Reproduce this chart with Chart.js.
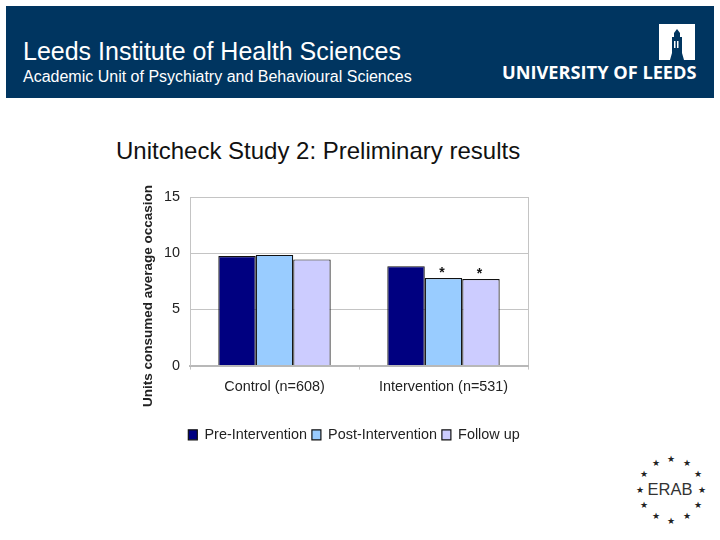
<!DOCTYPE html>
<html>
<head>
<meta charset="utf-8">
<title>Unitcheck Study 2</title>
<script src="https://cdn.jsdelivr.net/npm/chart.js@4"></script>
<style>
  html, body { margin: 0; padding: 0; background: #fff; }
  body { position: relative; width: 720px; height: 540px; overflow: hidden; font-family: "Liberation Sans", Arial, sans-serif; }
  #header { position: absolute; left: 6px; top: 6px; width: 708px; height: 92px; background: #003560; color: #fff; }
  #inst { position: absolute; left: 17px; top: 31px; font-size: 25px; white-space: nowrap; }
  #unit { position: absolute; left: 17px; top: 62px; font-size: 16px; white-space: nowrap; }
  #leeds { position: absolute; left: 496px; top: 54px; font-family: "Open Sans", sans-serif; font-weight: 700; font-size: 18.2px; white-space: nowrap; }
  #logo { position: absolute; left: 653px; top: 18px; }
  #heading { position: absolute; left: 116px; top: 137px; font-size: 24px; color: #111; white-space: nowrap; }
  #wrap { position: absolute; left: 130px; top: 170px; }
  #erab { position: absolute; left: 620px; top: 445px; }
</style>
</head>
<body>
<div id="header">
  <div id="inst">Leeds Institute of Health Sciences</div>
  <div id="unit">Academic Unit of Psychiatry and Behavioural Sciences</div>
  <div id="leeds">UNIVERSITY OF LEEDS</div>
  <svg id="logo" width="36" height="36" viewBox="0 0 36 36">
    <rect width="36" height="36" fill="#fff"/>
    <path d="M18 5 L21 9 L21 13 L23 13 L23 29 L25 36 L11 36 L13 29 L13 13 L15 13 L15 9 Z" fill="#003560"/>
    <rect x="15" y="17" width="1.5" height="7" fill="#fff"/>
    <rect x="18" y="17" width="1.5" height="7" fill="#fff"/>
  </svg>
</div>
<div id="heading">Unitcheck Study 2: Preliminary results</div>
<div id="wrap"><canvas id="myChart" width="448" height="288"></canvas></div>
<svg id="erab" width="100" height="90" viewBox="0 0 100 90">
  <g id="stars" fill="#222" font-size="9" text-anchor="middle"></g>
  <text x="50" y="50" text-anchor="middle" font-size="16.5" fill="#333" font-family="Liberation Sans">ERAB</text>
</svg>

<script>
const categories = ['Control (n=608)', 'Intervention (n=531)'];
const preIntervention = [9.75, 8.85];
const postIntervention = [9.85, 7.8];
const followUp = [9.45, 7.7];
const yTicks = [0, 5, 10, 15];
const yTitle = 'Units consumed average occasion';
// asterisks sit on the two later intervention bars
const starDatasets = [1, 2];
const starCategory = 1;

const gridGrey = '#c4c4c4';
const textColor = '#222';
const font = { family: '"Liberation Sans", Arial, sans-serif', size: 14.4 };

const stars = document.getElementById('stars');
for (let i = 0; i < 12; i++) {
  const a = i * Math.PI / 6;
  const t = document.createElementNS('http://www.w3.org/2000/svg', 'text');
  t.setAttribute('x', 51 + 31 * Math.sin(a));
  t.setAttribute('y', 47.5 - 31 * Math.cos(a));
  t.textContent = '★';
  stars.appendChild(t);
}

const extras = {
  id: 'extras',
  afterLayout(c) {
    // legend is centred under the canvas, not under the padded box
    c.legend.left += 25;
    c.legend.right += 25;
  },
  afterDraw(c) {
    const ctx = c.ctx;
    ctx.save();
    ctx.fillStyle = '#111';
    ctx.textAlign = 'center';
    ctx.font = 'bold 14px "Liberation Sans"';
    starDatasets.forEach(function(d) {
      const bar = c.getDatasetMeta(d).data[starCategory];
      ctx.fillText('*', bar.x - 1.5, bar.y - 5);
    });
    ctx.fillStyle = textColor;
    ctx.font = 'bold 13.5px "Liberation Sans"';
    ctx.translate(18, 126);
    ctx.rotate(-Math.PI / 2);
    ctx.textBaseline = 'middle';
    ctx.fillText(yTitle, 0, 0);
    ctx.restore();
  }
};

new Chart(document.getElementById('myChart').getContext('2d'), {
  type: 'bar',
  plugins: [extras],
  data: {
    labels: categories,
    datasets: [
      { label: 'Pre-Intervention', data: preIntervention, backgroundColor: '#000080' },
      { label: 'Post-Intervention', data: postIntervention, backgroundColor: '#99ccff' },
      { label: 'Follow up', data: followUp, backgroundColor: '#ccccff' }
    ].map(function(d) {
      return Object.assign(d, { borderColor: '#111', borderWidth: 1.2, categoryPercentage: 0.665, barPercentage: 1 });
    })
  },
  options: {
    responsive: false,
    animation: false,
    layout: { padding: { top: 27, right: 50, left: 0, bottom: 6 } },
    plugins: {
      tooltip: { enabled: false },
      legend: {
        position: 'bottom',
        labels: { boxWidth: 9, boxHeight: 10, padding: 5, color: textColor, font: font, useBorderRadius: false }
      }
    },
    scales: {
      x: {
        afterFit(s) { s.height = 57; },
        grid: {
          color: function(c) { return c.index === 1 ? 'transparent' : gridGrey; },
          tickColor: gridGrey,
          tickLength: 4
        },
        border: { color: '#b8b8b8', width: 2 },
        ticks: { color: textColor, font: font, padding: 9, maxRotation: 0 }
      },
      y: {
        min: 0,
        max: 15,
        afterFit(s) { s.width = 60; },
        afterBuildTicks(s) { s.ticks = yTicks.map(function(v) { return { value: v }; }); },
        grid: { color: gridGrey, tickLength: 0 },
        border: { color: gridGrey },
        ticks: { color: textColor, font: font, padding: 10 }
      }
    }
  }
});
</script>
</body>
</html>
